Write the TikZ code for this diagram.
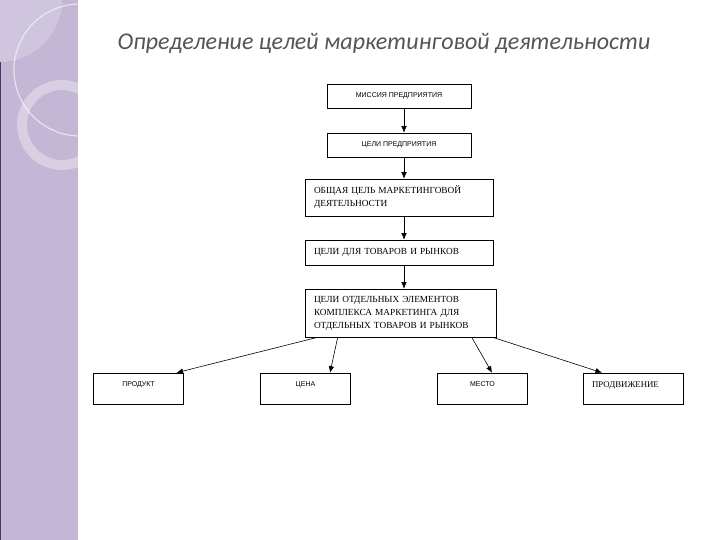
\documentclass[tikz,border=0pt]{standalone}
\usepackage{fontspec}
\setmainfont{Liberation Serif}
\newfontfamily\boxsans{Liberation Sans}
\newfontfamily\titlefont{Carlito}
\usetikzlibrary{arrows.meta}

\definecolor{bandlilac}{HTML}{C4B6D5}
\definecolor{bandlight}{HTML}{CFC5DE}
\definecolor{banddark}{HTML}{4A3B62}
\definecolor{titlegray}{HTML}{555555}

\begin{document}
\begin{tikzpicture}[
    x = 1pt, y = -1pt,
    > = {Latex[length=6.5pt, width=5.5pt]},
    flowbox/.style = {
        draw,
        rectangle,
        line width = 0.6pt,
        inner xsep = 0pt,
        inner ysep = 0pt
    },
    capsbox/.style = {
        flowbox,
        font = \boxsans\fontsize{7}{8}\selectfont,
        align = center
    },
    textbox/.style = {
        flowbox,
        font = \fontsize{9.3}{13}\selectfont,
        align = left
    },
    leafbox/.style = {
        flowbox,
        minimum width = 90pt,
        text height = 7pt,
        text depth = 12pt,
        inner ysep = 6pt
    },
    flow/.style = {->, line width = 0.6pt}
]

\useasboundingbox (0,0) rectangle (720,540);
\fill[white] (0,0) rectangle (720,540);

% Left band
\begin{scope}
    \clip (0,0) rectangle (78,540);
    \fill[bandlilac] (0,0) rectangle (78,540);
    \fill[bandlight] (0,0) circle (62);
    \fill[banddark] (0,62) rectangle (1.2,540);
    \draw[white, opacity = 0.6, line width = 1.2pt] (80,70) circle (66);
    \draw[white, opacity = 0.35, line width = 10pt] (62,125) circle (40);
\end{scope}

% Title
\node[font = \titlefont\itshape\fontsize{24}{28}\selectfont, text = titlegray] (title) at (384, 43) {Определение целей маркетинговой деятельности};

% Main column
\node[capsbox, minimum width = 144pt, minimum height = 24pt] (mission) at (399, 96) {МИССИЯ ПРЕДПРИЯТИЯ};
\node[capsbox, minimum width = 144pt, minimum height = 24pt] (firmgoals) at (399, 145) {ЦЕЛИ ПРЕДПРИЯТИЯ};
\node[textbox, minimum width = 188pt, minimum height = 37pt, text width = 170pt] (mktgoal) at (399, 197.5) {ОБЩАЯ ЦЕЛЬ МАРКЕТИНГОВОЙ\\ДЕЯТЕЛЬНОСТИ};
\node[textbox, minimum width = 188pt, minimum height = 25pt, text width = 170pt] (marketgoals) at (399, 252.5) {ЦЕЛИ ДЛЯ ТОВАРОВ И РЫНКОВ};
\node[textbox, minimum width = 191pt, minimum height = 48pt, text width = 173pt] (mixgoals) at (400.5, 313) {ЦЕЛИ ОТДЕЛЬНЫХ ЭЛЕМЕНТОВ\\КОМПЛЕКСА МАРКЕТИНГА ДЛЯ\\ОТДЕЛЬНЫХ ТОВАРОВ И РЫНКОВ};

% Marketing mix
\node[leafbox, font = \boxsans\fontsize{7}{8}\selectfont] (product) at (138.5, 388.5) {ПРОДУКТ};
\node[leafbox, font = \boxsans\fontsize{7}{8}\selectfont] (price) at (305.5, 388.5) {ЦЕНА};
\node[leafbox, font = \boxsans\fontsize{7}{8}\selectfont] (place) at (482.5, 388.5) {МЕСТО};
\node[leafbox, font = \fontsize{8.8}{10}\selectfont, minimum width = 100pt, text width = 82pt, align = left, text depth = 11pt, text height = 8pt] (promotion) at (633, 388.5) {ПРОДВИЖЕНИЕ};

% Arrows
\draw[flow] ([xshift = 5pt]mission.south) -- ([xshift = 5pt]firmgoals.north);
\draw[flow] ([xshift = 5pt]firmgoals.south) -- ([xshift = 5pt]mktgoal.north);
\draw[flow] ([xshift = 5pt]mktgoal.south) -- ([xshift = 5pt]marketgoals.north);
\draw[flow] ([xshift = 5pt]marketgoals.south) -- ([xshift = 3.5pt]mixgoals.north);

\draw[flow] ([xshift = 13pt]mixgoals.south west) -- ([xshift = 38pt]product.north);
\draw[flow] ([xshift = 33pt]mixgoals.south west) -- ([xshift = 24.5pt]price.north);
\draw[flow] ([xshift = 167pt]mixgoals.south west) -- ([xshift = 9.5pt]place.north);
\draw[flow] ([xshift = 188pt]mixgoals.south west) -- ([xshift = -31pt]promotion.north);

\end{tikzpicture}
\end{document}
